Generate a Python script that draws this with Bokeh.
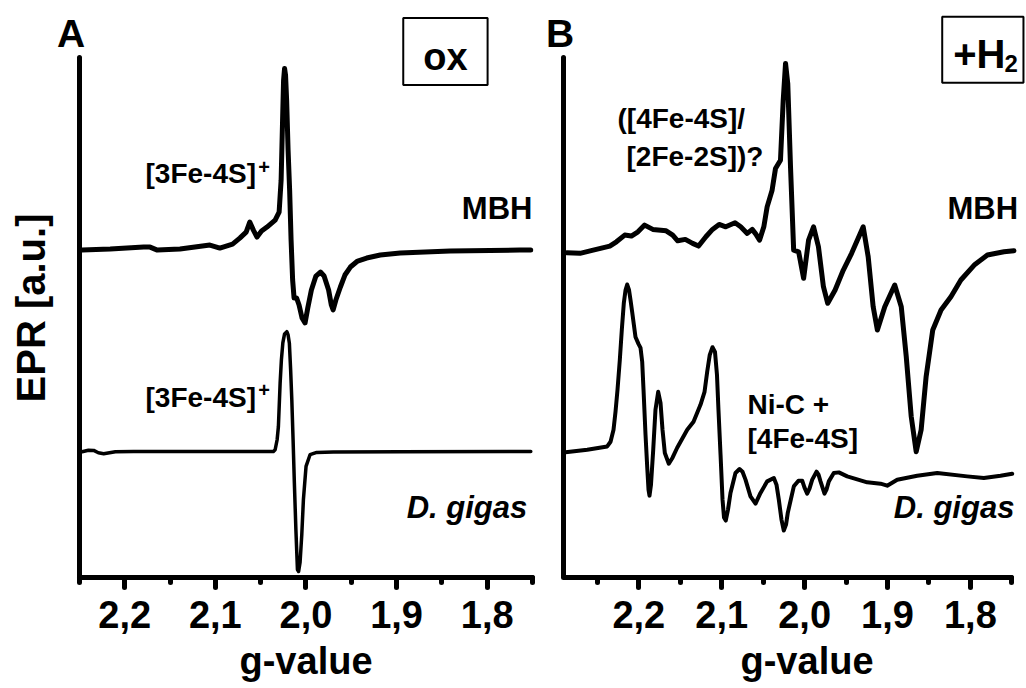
import math
from bokeh.plotting import figure
from bokeh.layouts import row
from bokeh.models import Range1d, FixedTicker, CustomJSTickFormatter, Label, Title
from bokeh.embed import file_html
from bokeh.resources import INLINE

FONT = "Liberation Sans"

# ---------------- data (g-value, EPR intensity in a.u.) ----------------
# Panel A (oxidised), MBH
g_a_mbh = [2.247, 2.216, 2.179, 2.172, 2.164, 2.139, 2.106, 2.095, 2.081, 2.073, 2.066, 2.062,
           2.058, 2.054, 2.049, 2.043, 2.034, 2.0296, 2.0274, 2.0258, 2.0247, 2.0236, 2.0225,
           2.0213, 2.0197, 2.018, 2.0164, 2.0147, 2.0131, 2.0103, 2.0076, 2.0043, 2.001, 1.998,
           1.994, 1.989, 1.984, 1.980, 1.975, 1.972, 1.970, 1.967, 1.962, 1.957, 1.951, 1.943,
           1.933, 1.918, 1.896, 1.841, 1.764, 1.752]
i_a_mbh = [329, 330, 332, 332, 329, 330, 334, 331, 335, 341, 347, 357, 349, 342, 348, 352, 359,
           367, 399, 459, 499, 511, 504, 479, 429, 389, 339, 299, 281, 281, 274, 261, 256, 271,
           289, 303, 307, 303, 289, 274, 269, 279, 292, 304, 312, 318, 321, 324, 326, 328, 329, 329]

# Panel A (oxidised), D. gigas
g_a_dg = [2.247, 2.240, 2.2342, 2.2291, 2.2232, 2.2103, 2.1902, 2.1167, 2.0359, 2.034, 2.0318,
          2.0304, 2.0285, 2.0271, 2.0255, 2.0236, 2.0211, 2.0197, 2.0183, 2.0169, 2.0156, 2.0142,
          2.0128, 2.0111, 2.0094, 2.0081, 2.0065, 2.0046, 2.0028, 1.9999, 1.9955, 1.9881, 1.9698,
          1.8963, 1.7640, 1.7519]
i_a_dg = [127, 128.5, 128.3, 126, 125, 127, 127.3, 127.3, 127.3, 129, 139, 152.3, 195.7, 219,
          236, 245, 247.3, 244, 235.7, 209, 179, 139, 96, 49, 9, 7, 16, 44, 79, 112.3, 124, 126.3,
          126.7, 127, 127.3, 127.3]

# Panel B (+H2), MBH
g_b_mbh = [2.2869, 2.2709, 2.255, 2.235, 2.227, 2.217, 2.209, 2.201, 2.193, 2.1831, 2.167,
           2.1591, 2.1531, 2.1439, 2.1351, 2.1279, 2.1191, 2.1111, 2.1031, 2.0951, 2.0839, 2.0771,
           2.0692, 2.0632, 2.0588, 2.0543, 2.0492, 2.0452, 2.0392, 2.0351, 2.0291, 2.0258, 2.023,
           2.0203, 2.017, 2.0132, 2.0072, 2.0012, 1.9952, 1.9892, 1.9833, 1.9773, 1.9721, 1.9632,
           1.9533, 1.9433, 1.9293, 1.9233, 1.9173, 1.9122, 1.9033, 1.8913, 1.8834, 1.8774, 1.8714,
           1.8654, 1.8594, 1.8534, 1.8454, 1.8354, 1.8235, 1.8115, 1.7954, 1.7795, 1.7595, 1.7475]
i_b_mbh = [326.3, 325.7, 329, 333, 337.3, 344, 343, 347.3, 354, 349.7, 348.3, 344, 338.3, 339.7,
           335.7, 333, 342.3, 349.7, 354.7, 352.3, 356.3, 352.3, 345.7, 349.7, 345, 339, 352.3,
           372.3, 389, 410.7, 419, 479, 516, 495.7, 412.3, 329, 327.3, 300.7, 339, 352.3, 332.3,
           292.3, 275.7, 289, 309, 325.7, 352.3, 322.3, 272.3, 249, 272.3, 294, 272.3, 222.3,
           162.3, 127, 149, 202.3, 249, 269, 282.3, 299, 314, 324, 327.3, 328.3]

# Panel B (+H2), D. gigas
g_b_dg = [2.2884, 2.2622, 2.2381, 2.2341, 2.2305, 2.2281, 2.2257, 2.2229, 2.2205, 2.2181, 2.216,
          2.214, 2.2118, 2.21, 2.208, 2.204, 2.2004, 2.1979, 2.1959, 2.1943, 2.1919, 2.1899,
          2.1883, 2.1871, 2.1853, 2.1826, 2.1799, 2.1766, 2.1738, 2.1714, 2.1686, 2.1638, 2.1593,
          2.1537, 2.1416, 2.134, 2.1256, 2.1207, 2.1175, 2.1144, 2.1111, 2.1081, 2.1057, 2.1039,
          2.1014, 2.099, 2.0972, 2.0951, 2.0924, 2.0894, 2.0834, 2.0785, 2.0749, 2.0713, 2.0653,
          2.0592, 2.0532, 2.0451, 2.0371, 2.0339, 2.0311, 2.0279, 2.0251, 2.0224, 2.0203, 2.013,
          2.0074, 2.0029, 2.0001, 1.9969, 1.9941, 1.9908, 1.9856, 1.9832, 1.9808, 1.976, 1.9736,
          1.9708, 1.9648, 1.9587, 1.9486, 1.9245, 1.9084, 1.9004, 1.8883, 1.8642, 1.84, 1.8039,
          1.7838, 1.7637, 1.7496]
i_b_dg = [126.5, 129, 132.3, 137, 149, 167, 189, 219, 249, 275.7, 289, 294.5, 289, 279, 267, 242,
          235, 231, 217, 189, 144, 112.3, 89, 83, 94, 129, 169, 187, 176, 149, 125.7, 115, 121,
          131, 149, 157, 174, 187, 207, 224, 231.7, 227, 204, 169, 124, 79, 61, 58, 69, 85.7,
          105.7, 109.7, 107, 99, 82.3, 75, 85.7, 97.3, 100.7, 94, 79, 59, 48, 54, 65.7, 92.3, 98,
          98, 91, 85, 90, 99, 107, 104, 97.3, 85, 89, 97.3, 105.7, 106.3, 102.3, 96.3, 95, 93, 99,
          103, 105.7, 102.3, 100.7, 103, 105]

major_ticks = [2.2, 2.1, 2.0, 1.9, 1.8]
minor_ticks = [2.25, 2.15, 2.05, 1.95, 1.85, 1.75]
x_label = "g-value"
y_label = "EPR [a.u.]"


def make_fig(width, x_view, x_bounds, label_offset):
    p = figure(width=width, height=688, x_range=Range1d(*x_view), y_range=Range1d(1, 579),
               output_backend="svg", toolbar_location=None,
               min_border_left=0, min_border_right=0,
               min_border_top=0, min_border_bottom=110)
    p.outline_line_color = None
    p.grid.visible = False
    p.background_fill_color = "white"
    p.border_fill_color = "white"

    xa = p.xaxis[0]
    xa.bounds = (min(x_bounds), max(x_bounds))
    xa.ticker = FixedTicker(ticks=major_ticks, minor_ticks=minor_ticks)
    xa.formatter = CustomJSTickFormatter(code="return tick.toFixed(1).replace('.', ',');")
    xa.axis_line_width = 5
    xa.axis_line_cap = "round"
    xa.major_tick_line_width = 5
    xa.major_tick_line_cap = "round"
    xa.major_tick_in = 0
    xa.major_tick_out = 10
    xa.minor_tick_line_width = 5
    xa.minor_tick_line_cap = "round"
    xa.minor_tick_in = 0
    xa.minor_tick_out = 5
    xa.major_label_text_font = FONT
    xa.major_label_text_font_style = "bold"
    xa.major_label_text_font_size = "38px"
    xa.major_label_text_color = "black"
    xa.major_label_standoff = 13

    p.add_layout(Title(text=x_label, align="left", offset=label_offset, standoff=14,
                       text_line_height=0.85,
                       text_font=FONT, text_font_style="bold", text_font_size="38px",
                       text_color="black"), "below")

    ya = p.yaxis[0]
    ya.fixed_location = x_bounds[0]
    ya.bounds = (1, 522)
    ya.ticker = FixedTicker(ticks=[], minor_ticks=[])
    ya.axis_line_width = 5
    ya.axis_line_cap = "round"
    ya.major_tick_out = 0
    ya.major_tick_in = 0
    ya.minor_tick_out = 0
    ya.minor_tick_in = 0
    ya.major_label_standoff = 0
    return p


def lab(p, x, y, text, size, style="bold", align="left", baseline="alphabetic", **kw):
    p.add_layout(Label(x=x, y=y, text=text, text_font=FONT, text_font_style=style,
                       text_font_size=size, text_align=align, text_baseline=baseline,
                       text_color="black", **kw))


# ---------------- panel A ----------------
pa = make_fig(545, (2.33705, 1.73567), (2.25, 1.75), 239)
pa.line(g_a_mbh, i_a_mbh, line_width=5, line_color="black", line_join="round", line_cap="round")
pa.line(g_a_dg, i_a_dg, line_width=3.5, line_color="black", line_join="round", line_cap="round")

lab(pa, 2.3029, 271, y_label, "40px", align="center", baseline="middle", angle=math.pi / 2)
lab(pa, 2.2748, 546, "A", "39px")
lab(pa, 1.8461, 528, "ox", "38px", align="center",
    border_line_color="black", border_line_width=2,
    padding=dict(left=20, right=20, top=18, bottom=7))
lab(pa, 2.177, 405.8, "[3Fe-4S]", "28px")
lab(pa, 2.0527, 412, "+", "20px")
lab(pa, 2.177, 181.8, "[3Fe-4S]", "28px")
lab(pa, 2.0527, 189, "+", "20px")
lab(pa, 1.828, 370.5, "MBH", "31px")
lab(pa, 1.8889, 71.5, "D. gigas", "31px", style="bold italic")

# ---------------- panel B ----------------
pb = make_fig(481, (2.31255, 1.73233), (2.291, 1.75), 195)
pb.line(g_b_mbh, i_b_mbh, line_width=5, line_color="black", line_join="round", line_cap="round")
pb.line(g_b_dg, i_b_dg, line_width=4, line_color="black", line_join="round", line_cap="round")

lab(pb, 2.3119, 546, "B", "39px")
lab(pb, 1.834, 529.7, "+H", "40px",
    border_line_color="black", border_line_width=2,
    padding=dict(left=11, right=18, top=15, bottom=7))
lab(pb, 1.7589, 515.7, "2", "24px")
lab(pb, 2.2257, 460.5, "([4Fe-4S]/", "28px")
lab(pb, 2.2148, 423.1, "[2Fe-2S])?", "28px")
lab(pb, 1.8276, 370.5, "MBH", "31px")
lab(pb, 2.0689, 174.8, "Ni-C +", "28px")
lab(pb, 2.0689, 140.5, "[4Fe-4S]", "28px")
lab(pb, 1.8924, 71.5, "D. gigas", "31px", style="bold italic")

layout = row(pa, pb)
open("out.html", "w").write(file_html(layout, INLINE))
